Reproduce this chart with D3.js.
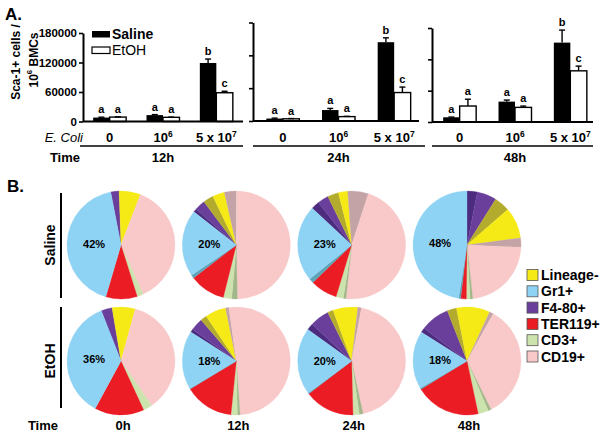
<!DOCTYPE html>
<html><head><meta charset="utf-8">
<script src="https://cdn.jsdelivr.net/npm/d3@7"></script>
<style>body{margin:0;background:#fff}svg{display:block}</style>
</head><body><svg id="c" width="603" height="435"></svg>
<script>
// ---------- DATA ----------
const doses = ["0", "10^6", "5 x 10^7"];
const barTimes = ["12h", "24h", "48h"];
const seriesNames = ["Saline", "EtOH"];
const yTicks = [0, 60000, 120000, 180000];

const saline12 = [8000, 13000, 119000];
const saline12Err = [800, 1000, 8000];
const etoh12 = [9000, 8500, 58500];
const etoh12Err = [500, 500, 3000];
const saline12Sig = ["a", "a", "b"];
const etoh12Sig = ["a", "a", "c"];

const saline24 = [4500, 20000, 144000];
const saline24Err = [800, 3000, 8000];
const etoh24 = [4000, 8000, 52000];
const etoh24Err = [500, 500, 10000];
const saline24Sig = ["a", "a", "b"];
const etoh24Sig = ["a", "a", "c"];

const saline48 = [9000, 39000, 152000];
const saline48Err = [500, 3000, 24000];
const etoh48 = [30600, 28000, 98000];
const etoh48Err = [13000, 2500, 9000];
const saline48Sig = ["a", "a", "b"];
const etoh48Sig = ["a", "a", "c"];

// pies: slice order (clockwise)
const sliceKeys = ["F4-80+ (dark)", "F4-80+", "Lineage- (hatched)", "Lineage-", "CD19+ (hatched)", "CD19+",
                   "CD3+ (hatched)", "CD3+", "TER119+", "Gr1+ (dark)", "Gr1+"];
const pieTimes = ["0h", "12h", "24h", "48h"];
const pieGroups = ["Saline", "EtOH"];
const salinePies = [
  [0, 2.5, 0, 6.4, 0, 37.5, 0, 1.8, 9.4, 0, 42.4],
  [1.1, 3.1, 3.1, 3.6, 3.6, 49.7, 1.7, 2.5, 10.7, 1.0, 20.0],
  [2.5, 3.3, 3.3, 2.8, 6.2, 46.7, 0.8, 2.2, 8.1, 1.4, 22.8],
  [3.1, 5.8, 4.7, 9.3, 2.8, 22.6, 0.8, 1.1, 1.7, 0.6, 47.5]
];
const etohPies = [
  [0, 3.3, 0, 6.9, 0, 36.1, 0, 2.7, 14.8, 0, 36.1],
  [1.0, 3.7, 1.9, 6.2, 1.0, 51.1, 0.8, 1.9, 14.7, 0.2, 17.5],
  [2.0, 5.8, 1.7, 7.4, 1.1, 43.7, 1.1, 1.9, 15.0, 0.3, 20.0],
  [1.4, 8.7, 2.8, 10.0, 1.2, 34.6, 0.9, 3.1, 19.6, 0.4, 17.3]
];
const salineGr1Labels = ["42%", "20%", "23%", "48%"];
const etohGr1Labels = ["36%", "18%", "20%", "18%"];
const legendCats = ["Lineage-", "Gr1+", "F4-80+", "TER119+", "CD3+", "CD19+"];

// ---------- STYLE / LAYOUT ----------
const F = '"Liberation Sans", Arial, Helvetica, sans-serif';
const sliceColors = ["#4d2c80", "#6a3f9c", "#b3ab2e", "#f6ea16", "#c3a3a5", "#f9c9c9",
                     "#a3b78a", "#cde3ad", "#ec1c24", "#5ea4b9", "#8fd3f4"];
const legendColors = ["#f6ea16", "#8fd3f4", "#6a3f9c", "#ec1c24", "#cde3ad", "#f9c9c9"];
const salineStart = [-11, -52, -47, 0];
const etohStart = [-21.4, -57.6, -54.3, -57.7];

const svg = d3.select("#c");

function supText(sel, str, size) {
  const m = str.match(/^(.*?)\^(\S+)(.*)$/);
  if (!m) { sel.text(str); return; }
  sel.append("tspan").text(m[1]);
  sel.append("tspan").attr("dy", -size * 0.42).attr("font-size", size * 0.65).text(m[2]);
  if (m[3]) sel.append("tspan").attr("dy", size * 0.42).text(m[3]);
}
function txt(x, y, s, size, weight, anchor, sup) {
  const t = svg.append("text").attr("x", x).attr("y", y)
    .attr("font-family", F).attr("font-size", size).attr("font-weight", weight || "bold")
    .attr("text-anchor", anchor || "start").attr("fill", "#000");
  if (sup) supText(t, s, size); else t.text(s);
  return t;
}

// ---------- PANEL A ----------
txt(5, 20, "A.", 17);

const panels = [
  {time: barTimes[0], s: saline12, se: saline12Err, e: etoh12, ee: etoh12Err, ss: saline12Sig, es: etoh12Sig},
  {time: barTimes[1], s: saline24, se: saline24Err, e: etoh24, ee: etoh24Err, ss: saline24Sig, es: etoh24Sig},
  {time: barTimes[2], s: saline48, se: saline48Err, e: etoh48, ee: etoh48Err, ss: saline48Sig, es: etoh48Sig}
];
const layout = [
  {ax: 83, b0: 83, b1: 243, base1: 243, y0: 121.5, yT: 33, u0: 80, u1: 243, labels: true},
  {ax: 253, b0: 255, b1: 422, base1: 419, y0: 121, yT: 22.5, u0: 253, u1: 425, labels: false},
  {ax: 432, b0: 432, b1: 598, base1: 593, y0: 122, yT: 28, u0: 432, u1: 593, labels: false}
];
const bw = 16.5;

panels.forEach((p, i) => {
  const L = layout[i];
  const x = d3.scaleBand().domain(doses).range([L.b0, L.b1]);
  const y = d3.scaleLinear().domain([0, 180000]).range([L.y0, L.yT]);
  const g = svg.append("g");

  doses.forEach((d, j) => {
    const c = x(d) + x.bandwidth() / 2;
    g.append("rect").attr("x", c - bw).attr("width", bw)
      .attr("y", y(p.s[j])).attr("height", y(0) - y(p.s[j])).attr("fill", "#000");
    g.append("rect").attr("x", c).attr("width", bw)
      .attr("y", y(p.e[j])).attr("height", y(0) - y(p.e[j]))
      .attr("fill", "#fff").attr("stroke", "#000").attr("stroke-width", 1.4);
    [[c - bw / 2, p.s[j], p.se[j], p.ss[j]], [c + bw / 2, p.e[j], p.ee[j], p.es[j]]].forEach(([cx, v, er, sig]) => {
      g.append("line").attr("x1", cx).attr("x2", cx).attr("y1", y(v)).attr("y2", y(v + er))
        .attr("stroke", "#000").attr("stroke-width", 1.4);
      g.append("line").attr("x1", cx - 3).attr("x2", cx + 3).attr("y1", y(v + er)).attr("y2", y(v + er))
        .attr("stroke", "#000").attr("stroke-width", 1.4);
      txt(cx, y(v + er) - 4, sig, 11, "bold", "middle");
    });
    txt(c, 142, d, 13, "bold", "middle", true);
  });

  const axis = d3.axisLeft(y).tickValues(yTicks).tickSize(4).tickSizeOuter(0)
    .tickFormat(L.labels ? d3.format("d") : "");
  const ag = svg.append("g").attr("transform", `translate(${L.ax},0)`).call(axis);
  ag.select(".domain").attr("stroke-width", 2);
  ag.selectAll(".tick line").attr("stroke-width", 1.6);
  ag.selectAll(".tick text").attr("font-family", F).attr("font-size", 11.5).attr("font-weight", "bold")
    .attr("fill", "#000").attr("x", -6);
  svg.append("line").attr("x1", L.ax).attr("x2", L.base1).attr("y1", y(0)).attr("y2", y(0))
    .attr("stroke", "#000").attr("stroke-width", 2);
  svg.append("line").attr("x1", L.u0).attr("x2", L.u1).attr("y1", 146).attr("y2", 146)
    .attr("stroke", "#000").attr("stroke-width", 1.5);
  txt(x(doses[1]) + x.bandwidth() / 2, 162, p.time, 13, "bold", "middle");
});

txt(83, 142, "E. Coli", 13, "normal", "end").attr("font-style", "italic");
txt(80, 162, "Time", 13, "bold", "end");

txt(0, 0, "Sca-1+ cells /", 12, "bold", "middle").attr("transform", "translate(19.5,62) rotate(-90)");
txt(0, 0, "10^6 BMCs", 12, "bold", "middle", true).attr("transform", "translate(37.5,60) rotate(-90)");

svg.append("rect").attr("x", 92).attr("y", 31).attr("width", 18).attr("height", 6.5).attr("fill", "#000");
txt(112, 39, seriesNames[0], 14, "bold");
svg.append("rect").attr("x", 92).attr("y", 47).attr("width", 18).attr("height", 6.5)
  .attr("fill", "#fff").attr("stroke", "#000").attr("stroke-width", 1.2);
txt(112, 55, seriesNames[1], 14, "normal");

// ---------- PANEL B ----------
txt(7, 192, "B.", 17);
const px = d3.scalePoint().domain(pieTimes).range([121, 467]);
const py = d3.scalePoint().domain(pieGroups).range([245, 361]);
const R = 54;
const arc = d3.arc().innerRadius(0).outerRadius(R);

[[salinePies, salineStart, salineGr1Labels], [etohPies, etohStart, etohGr1Labels]].forEach(([pies, starts, labs], gi) => {
  pies.forEach((vals, ti) => {
    const st = starts[ti] * Math.PI / 180;
    const pie = d3.pie().sort(null).value(d => d.v).startAngle(st).endAngle(st + 2 * Math.PI);
    const arcs = pie(vals.map((v, k) => ({v, k})));
    const g = svg.append("g").attr("transform", `translate(${px(pieTimes[ti])},${py(pieGroups[gi])})`);
    g.selectAll("path").data(arcs.filter(a => a.data.v > 0)).join("path")
      .attr("d", arc).attr("fill", a => sliceColors[a.data.k])
      .attr("stroke", a => sliceColors[a.data.k]).attr("stroke-width", 0.3);
    const blue = arcs[sliceKeys.indexOf("Gr1+")];
    const [lx, ly] = arc.centroid(blue);
    g.append("text").attr("x", lx).attr("y", ly + 4).attr("text-anchor", "middle")
      .attr("font-family", F).attr("font-size", 11).attr("font-weight", "bold").attr("fill", "#000")
      .text(labs[ti]);
  });
});

[[193, 298], [307, 408]].forEach(([a, b], i) => {
  svg.append("line").attr("x1", 61).attr("x2", 61).attr("y1", a).attr("y2", b)
    .attr("stroke", "#000").attr("stroke-width", 2);
  txt(0, 0, pieGroups[i], 14, "bold", "middle").attr("transform", `translate(55,${py(pieGroups[i])}) rotate(-90)`);
});

txt(58, 430, "Time", 13, "bold", "end");
pieTimes.forEach(t => txt(px(t) + 2, 430, t, 13, "bold", "middle"));

legendCats.forEach((c, i) => {
  const yy = 275 + i * 16.3;
  svg.append("rect").attr("x", 527).attr("y", yy - 5.5).attr("width", 11).attr("height", 11)
    .attr("fill", legendColors[i]).attr("stroke", "#555").attr("stroke-width", 0.8);
  txt(541, yy + 5, c, 14, "bold");
});
</script></body></html>
